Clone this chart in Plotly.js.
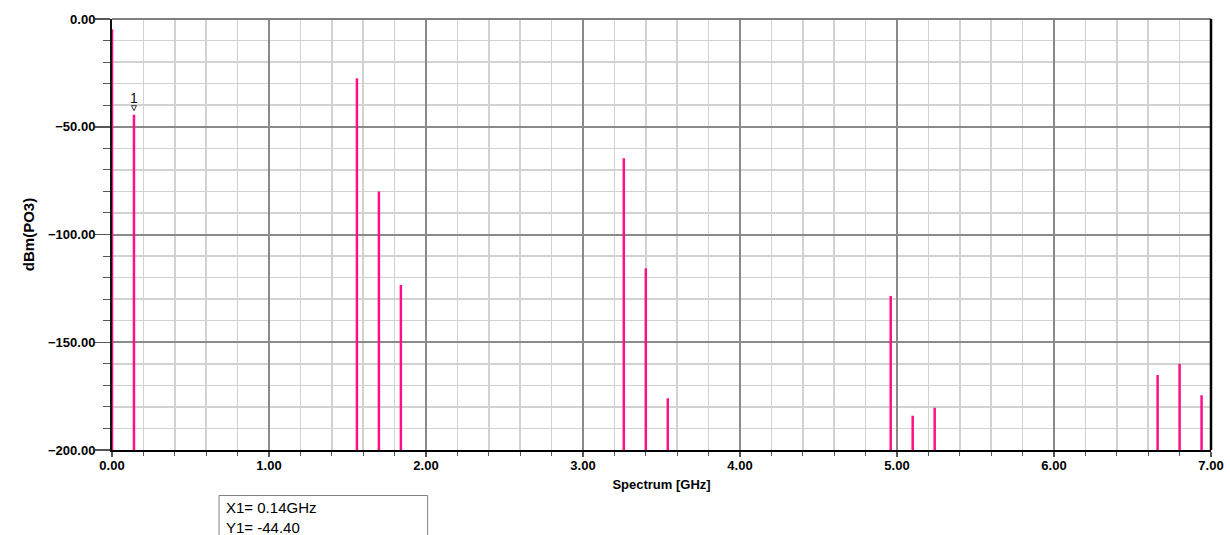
<!DOCTYPE html>
<html>
<head>
<meta charset="utf-8">
<script src="https://cdn.plot.ly/plotly-3.0.1.min.js"></script>
<style>html,body{margin:0;padding:0;background:#fff;}#chart{width:1230px;height:535px;}</style>
</head>
<body>
<div id="chart"></div>
<script>
// Spectrum lines (GHz) and levels (dBm)
var freqGHz = [0.00, 0.14, 1.56, 1.70, 1.84, 3.26, 3.40, 3.54, 4.96, 5.10, 5.24, 6.66, 6.80, 6.94];
var levelDbm = [-4.8, -44.4, -27.5, -80.1, -123.4, -64.6, -115.7, -176.0, -128.5, -184.1, -180.4, -165.2, -160.0, -174.6];
var floorDbm = -200;
var markerName = ["1"];
var markerX = [0.14];
var markerY = [-44.40];
var markerText = ["X1= 0.14GHz", "Y1= -44.40"];

var xs = [], ys = [];
freqGHz.forEach(function(f, i){ xs.push(f, f, null); ys.push(floorDbm, levelDbm[i], null); });

var pink = '#ff1088';
var font = 'Liberation Sans, Arial, sans-serif';

var traces = [{
  type: 'scatter', mode: 'lines', x: xs, y: ys,
  line: {color: pink, width: 2.5}, hoverinfo: 'skip', showlegend: false
}];

var layout = {
  width: 1230, height: 535,
  margin: {l: 112, r: 19.3, t: 19, b: 85},
  paper_bgcolor: '#fff', plot_bgcolor: '#fff',
  showlegend: false,
  xaxis: {
    range: [0, 7], dtick: 1, tick0: 0, tickformat: '.2f',
    showgrid: true, gridcolor: '#8a8a8a', gridwidth: 2,
    zeroline: false, showline: true, linecolor: '#000', linewidth: 2,
    ticks: 'outside', ticklen: 5, tickcolor: '#555', tickwidth: 1.5,
    ticklabelstandoff: -3,
    tickfont: {family: font, size: 13, color: '#000', weight: 'bold'},
    layer: 'below traces',
    minor: {dtick: 0.2, showgrid: true, gridcolor: '#d2d2d2', gridwidth: 1.5, ticks: 'outside', ticklen: 4, tickcolor: '#555', tickwidth: 1},
    title: {text: 'Spectrum [GHz]', font: {family: font, size: 13, color: '#000', weight: 'bold'}, standoff: 8},
    automargin: false
  },
  yaxis: {
    range: [-200, 0], dtick: 50, tick0: 0, tickformat: '.2f',
    showgrid: true, gridcolor: '#8a8a8a', gridwidth: 2,
    zeroline: false, showline: true, linecolor: '#111', linewidth: 2,
    ticks: 'outside', ticklen: 15, tickcolor: '#555', tickwidth: 1.5,
    ticklabelstandoff: -3,
    tickfont: {family: font, size: 13, color: '#000', weight: 'bold'},
    layer: 'below traces',
    minor: {dtick: 10, showgrid: true, gridcolor: '#d2d2d2', gridwidth: 1.5, ticks: 'outside', ticklen: 7, tickcolor: '#555', tickwidth: 1},
    title: {text: 'dBm(PO3)', font: {family: font, size: 15, color: '#000', weight: 'bold'}, standoff: 10},
    automargin: false
  },
  shapes: [
    {type: 'line', xref: 'paper', yref: 'paper', x0: 0, x1: 1, y0: 1, y1: 1, line: {color: '#808080', width: 2}},
    {type: 'line', xref: 'paper', yref: 'paper', x0: 1, x1: 1, y0: 0, y1: 1, line: {color: '#000', width: 2.5}},
    {type: 'rect', xref: 'paper', yref: 'paper', x0: 0.0974, x1: 0.2872, y0: -0.1056, y1: -0.3, line: {color: '#808080', width: 1}, fillcolor: 'rgba(0,0,0,0)'},
    {type: 'path', xref: 'x', yref: 'y', xsizemode: 'pixel', ysizemode: 'pixel', xanchor: markerX[0], yanchor: markerY[0],
     path: 'M -2.5 9 L 2.5 9 L 0 4 Z', line: {color: '#333', width: 1}, fillcolor: 'rgba(255,255,255,1)'}
  ],
  annotations: [
    {x: markerX[0], y: markerY[0], xref: 'x', yref: 'y', text: markerName[0], showarrow: false, yanchor: 'bottom', yshift: 7, font: {family: font, size: 14, color: '#111'}},
    {x: 0.1019, y: -0.1323, xref: 'paper', yref: 'paper', text: markerText[0], showarrow: false, xanchor: 'left', yanchor: 'middle', font: {family: font, size: 15, color: '#000'}},
    {x: 0.1019, y: -0.1787, xref: 'paper', yref: 'paper', text: markerText[1], showarrow: false, xanchor: 'left', yanchor: 'middle', font: {family: font, size: 15, color: '#000'}}
  ]
};

Plotly.newPlot('chart', traces, layout, {displayModeBar: false, staticPlot: true});
</script>
</body>
</html>
